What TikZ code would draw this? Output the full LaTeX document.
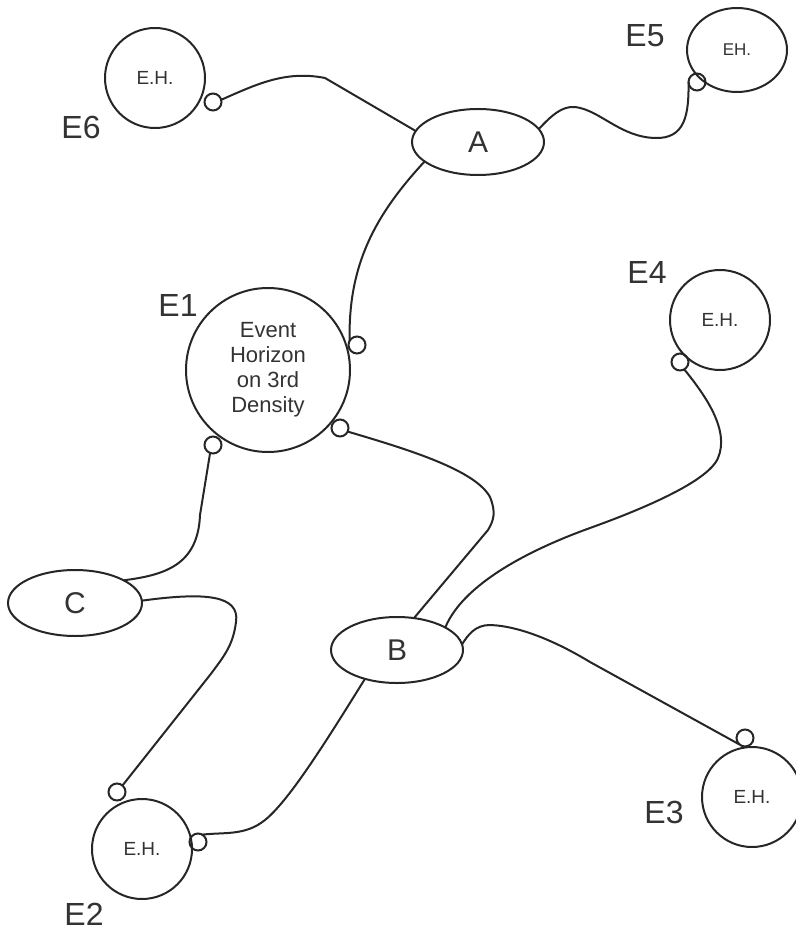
\documentclass[tikz,border=0pt]{standalone}
\usepackage{fontspec}
\setmainfont{Liberation Sans}
\usepackage{tikz}
\usetikzlibrary{shapes.geometric}

\begin{document}
\begin{tikzpicture}[x=0.5pt, y=-0.5pt,
    line width=1pt, draw=black!85, text=black!80,
    eh/.style={circle, draw, minimum size=50pt, inner sep=0pt, outer sep=0pt,
               font=\fontsize{9.5}{11}\selectfont},
    knob/.style={circle, draw, minimum size=8.5pt, inner sep=0pt, outer sep=0pt},
    hub/.style={ellipse, draw, minimum width=66pt, minimum height=33pt,
                inner sep=0pt, outer sep=0pt, font=\fontsize{15}{18}\selectfont},
    lab/.style={font=\fontsize{16}{19}\selectfont, inner sep=0pt}]
\useasboundingbox (0,0) rectangle (796,930);

% horizons
\node[eh] (E6) at (155,78) {E.H.};
\node[eh, ellipse, minimum width=50pt, minimum height=42pt,
      font=\fontsize{8.5}{10}\selectfont] (E5) at (737,50) {EH.};
\node[eh, minimum size=82pt, align=center, font=\fontsize{11}{12.5}\selectfont]
      (E1) at (268,370) {Event\\Horizon\\on 3rd\\Density};
\node[eh] (E4) at (720,320) {E.H.};
\node[eh] (E2) at (142,849) {E.H.};
\node[eh] (E3) at (752,797) {E.H.};

\node[lab] (l6) at (81,127) {E6};
\node[lab] (l5) at (645,36) {E5};
\node[lab] (l1) at (178,305) {E1};
\node[lab] (l4) at (647,272) {E4};
\node[lab] (l2) at (84,914) {E2};
\node[lab] (l3) at (664,812) {E3};

% little rings on the horizons
\node[knob] (k6) at (213,102) {};
\node[knob] (k5) at (697,82) {};
\node[knob] (k1a) at (357,345) {};
\node[knob] (k1b) at (340,428) {};
\node[knob] (k1c) at (213,445) {};
\node[knob] (k4) at (680,362) {};
\node[knob] (k2a) at (117,792) {};
\node[knob] (k2b) at (198,842) {};
\node[knob] (k3) at (745,738) {};

% hubs
\node[hub] (A) at (478,142) {A};
\node[hub] (B) at (397,650) {B};
\node[hub, minimum width=67pt] (C) at (75,603) {C};

\draw (k6.15) .. controls (255,85) and (285,70) .. (325,78) -- (A.170)
      (A.12) .. controls (552,115) and (562,106) .. (575,107)
             .. controls (600,110) and (620,137) .. (655,138)
             .. controls (685,139) and (689,115) .. (k5.west)
      (A.200) .. controls (375,215) and (348,265) .. (k1a.150);
\draw (k1b.-25) .. controls (410,450) and (475,470) .. (490,497)
                .. controls (496,512) and (494,520) .. (488,530) -- (B.62)
      (k4.-60) .. controls (705,395) and (730,430) .. (718,458)
               .. controls (708,482) and (640,510) .. (590,528)
               .. controls (540,546) and (465,580) .. (B.25)
      (B.5) .. controls (468,635) and (475,625) .. (490,625)
            .. controls (520,626) and (557,642) .. (590,662) -- (k3.230)
      (B.222) .. controls (330,735) and (290,800) .. (265,820)
              .. controls (245,836) and (225,832) .. (k2b.60);
\draw (C.25) .. controls (165,575) and (198,565) .. (200,515) -- (k1c.250)
      (C.2) .. controls (205,592) and (240,595) .. (236,622)
            .. controls (233,645) and (225,655) .. (210,675) -- (k2a.50);
\end{tikzpicture}
\end{document}
